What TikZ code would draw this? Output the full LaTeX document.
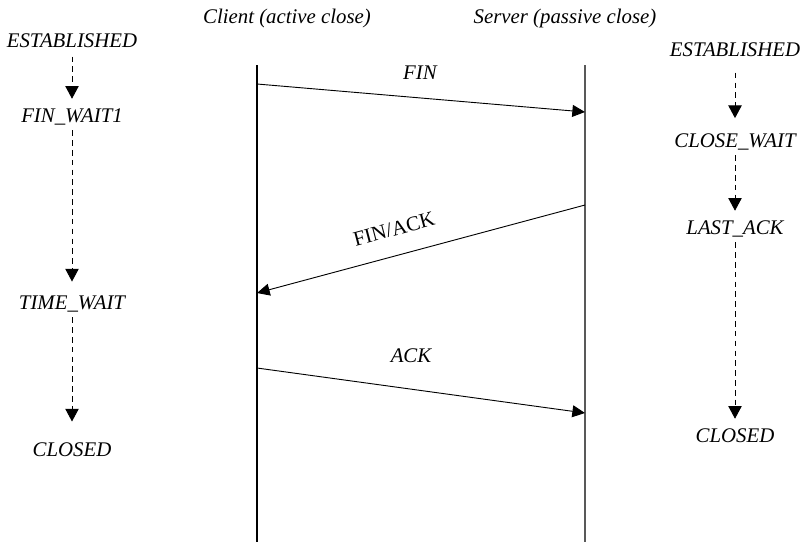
\documentclass[tikz,border=0pt]{standalone}
\usepackage{fontspec}
\setmainfont{Liberation Serif}
\usepackage{tikz}
\usetikzlibrary{arrows.meta, positioning}
\tikzstyle{state}=[font=\fontsize{14.8}{17}\selectfont\itshape, inner sep=0pt, text height=10pt, text depth=3pt]
\tikzstyle{title}=[font=\fontsize{14.8}{17}\selectfont\itshape, inner sep=0pt]
\tikzstyle{trans}=[dash pattern=on 4pt off 3pt, line width=0.65pt, -{Triangle[length=9pt, width=9.5pt]}]
\tikzstyle{msg}=[line width=0.65pt, -{Triangle[length=9pt, width=8.5pt]}]
\tikzstyle{life}=[line width=0.75pt]

\begin{document}
\begin{tikzpicture}[x=0.025cm, y=-0.025cm]
  \useasboundingbox (0,0) rectangle (802,542);
  % titles
  \node[title] (client) at (287,18) {Client (active close)};
  \node[title] (server) at (565,18) {Server (passive close)};
  % lifelines
  \coordinate (cTop) at (257,65);
  \coordinate (cBot) at (257,542);
  \coordinate (sTop) at (585,65);
  \coordinate (sBot) at (585,542);
  \draw[life] (cTop) -- (cBot);
  \draw[life, black!65] (sTop) -- (sBot);
  % messages
  \coordinate (cFin) at (257,84);
  \coordinate (sFin) at (585,112);
  \coordinate (sFinAck) at (585,205);
  \coordinate (cFinAck) at (257,293);
  \coordinate (cAck) at (257,368);
  \coordinate (sAck) at (585,413);
  \draw[msg] (cFin) -- (sFin);
  \draw[msg] (sFinAck) -- (cFinAck);
  \draw[msg] (cAck) -- (sAck);
  \node[title] (fin) at (420,73) {FIN};
  \node[title, font=\fontsize{14.8}{17}\selectfont\upshape, rotate=15] (finack) at (394,229) {FIN/ACK};
  \node[title] (ack) at (411,356) {ACK};
  % client states
  \node[state] (est1) at (72,43) {ESTABLISHED};
  \node[state] (fw1) at (72,118) {FIN\_WAIT1};
  \node[state] (tw) at (72,305) {TIME\_WAIT};
  \node[state] (cl1) at (72,452) {CLOSED};
  \draw[trans, shorten <=3pt, shorten >=7pt] (est1.south) -- (fw1.north);
  \draw[trans, shorten <=2pt, shorten >=10pt] (fw1.south) -- (tw.north);
  \draw[trans, shorten <=2pt, shorten >=15pt] (tw.south) -- (cl1.north);
  % server states
  \node[state] (est2) at (735,52) {ESTABLISHED};
  \node[state] (cw) at (735,143) {CLOSE\_WAIT};
  \node[state] (la) at (735,230) {LAST\_ACK};
  \node[state] (cl2) at (735,438) {CLOSED};
  \draw[trans, shorten <=8pt, shorten >=11pt] (est2.south) -- (cw.north);
  \draw[trans, shorten <=2pt, shorten >=7pt] (cw.south) -- (la.north);
  \draw[trans, shorten <=2pt, shorten >=7pt] (la.south) -- (cl2.north);
\end{tikzpicture}
\end{document}
